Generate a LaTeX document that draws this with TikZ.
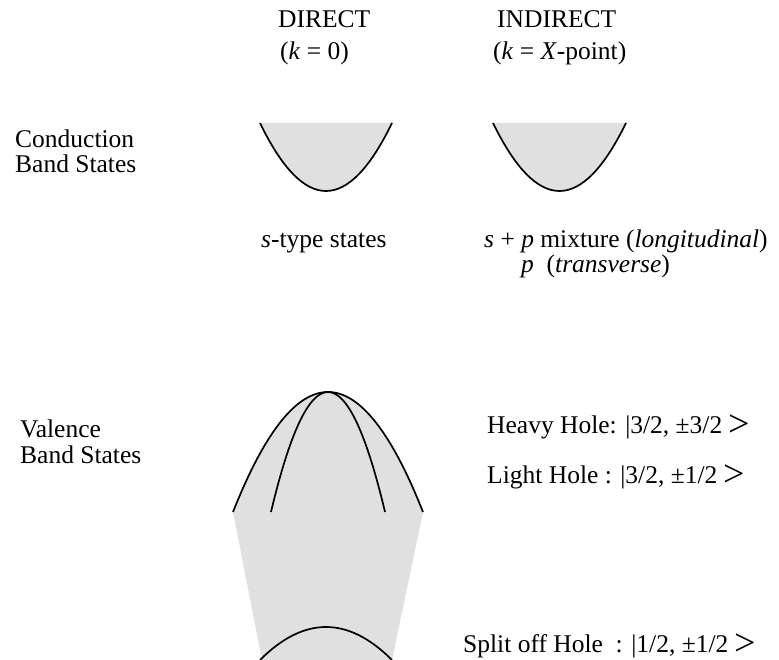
\documentclass[tikz,border=0pt]{standalone}
\usepackage{fontspec}
\setmainfont{Liberation Serif}
\definecolor{bandgray}{RGB}{224,224,224}
\newcommand{\ketend}{\raisebox{-3.5pt}{\fontsize{38}{38}\selectfont >}}
\begin{document}
\begin{tikzpicture}[x=1pt,y=-1pt,
  lbl/.style={anchor=base west,inner sep=0pt,font=\fontsize{25.5}{25.5}\selectfont},
  curve/.style={line width=1.7pt,black}]
\useasboundingbox (0,0) rectangle (779,660);
% column headings
\node[lbl] (dir) at (278,28) {DIRECT};
\node[lbl] (dirk) at (280,60) {(\textit{k} = 0)};
\node[lbl] (ind) at (497,28) {INDIRECT};
\node[lbl] (indk) at (493,60) {(\textit{k} = \textit{X}-point)};
% row labels
\node[lbl] (cb1) at (15,148) {Conduction};
\node[lbl] (cb2) at (15,173) {Band States};
\node[lbl] (vb1) at (20,437) {Valence};
\node[lbl] (vb2) at (20,463) {Band States};
% conduction band, direct
\fill[bandgray] (260,123) .. controls (304,213.67) and (348,213.67) .. (392,123) -- cycle;
\draw[curve] (260,123) .. controls (304,213.67) and (348,213.67) .. (392,123);
% conduction band, indirect
\fill[bandgray] (493,123) .. controls (537.33,213.67) and (581.67,213.67) .. (626,123) -- cycle;
\draw[curve] (493,123) .. controls (537.33,213.67) and (581.67,213.67) .. (626,123);
% state labels
\node[lbl] (stype) at (261,248) {\textit{s}-type states};
\node[lbl] (mix) at (484,248) {\textit{s} + \textit{p} mixture (\textit{longitudinal})};
\node[lbl] (trans) at (521,273) {\textit{p}\ \ (\textit{transverse})};
% valence band
\fill[bandgray] (233,512) .. controls (296.33,352) and (359.67,352) .. (423,512) -- (392,660) -- (262,660) -- cycle;
\draw[curve] (233,512) .. controls (296.33,352) and (359.67,352) .. (423,512);
\draw[curve] (271,512) .. controls (309,352) and (347,352) .. (385,512);
\draw[curve] (260,660) .. controls (304,616) and (348,616) .. (392,660);
% hole labels
\node[lbl] (hh) at (487,433) {Heavy Hole: |3/2, ±3/2 \ketend};
\node[lbl] (lh) at (487,483) {Light Hole : |3/2, ±1/2 \ketend};
\node[lbl] (so) at (463,652) {Split off Hole\ \ : |1/2, ±1/2 \ketend};
\end{tikzpicture}
\end{document}
